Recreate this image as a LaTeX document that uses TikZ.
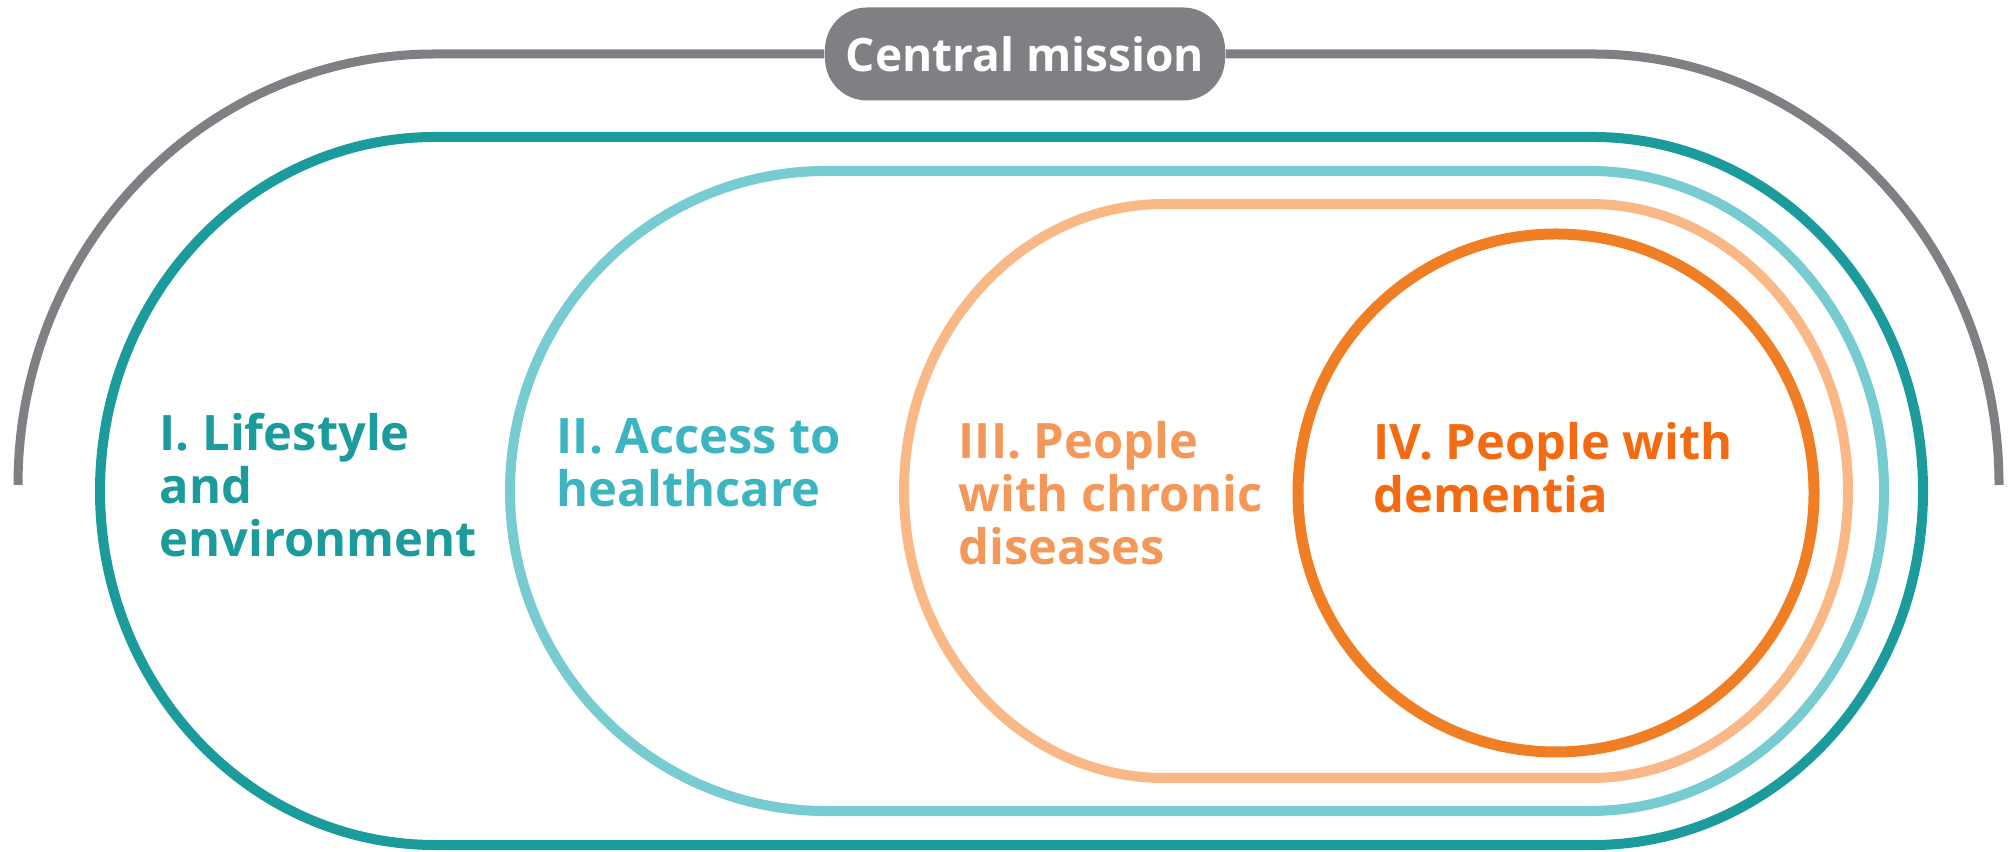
\documentclass[tikz,border=0pt]{standalone}
\usepackage{fontspec}
\setmainfont{Open Sans}
\usepackage{xcolor}
\usepackage{tikz}
\definecolor{MissionGray}{RGB}{128,128,132}
\definecolor{LifeTeal}{RGB}{28,155,156}
\definecolor{AccessTeal}{RGB}{118,204,208}
\definecolor{AccessText}{RGB}{60,181,192}
\definecolor{ChronicOrange}{RGB}{250,184,134}
\definecolor{ChronicText}{RGB}{244,152,90}
\definecolor{DementiaOrange}{RGB}{240,126,36}
\definecolor{DementiaText}{RGB}{242,106,18}
\tikzset{
    ring/.style={line width=1mm, line join=round},
    area/.style={anchor=base west, inner sep=0pt, align=left, font=\bfseries\fontsize{13.9}{15.2}\selectfont}
}

\begin{document}
\begin{tikzpicture}[
        x=0.1mm, y=0.1mm,
        % --- HỘP "CENTRAL MISSION" ---
        missionbox/.style={
            rectangle,
            rounded corners=4.2mm,
            fill=MissionGray,
            text=white,
            font=\bfseries\fontsize{13.1}{15}\selectfont,
            minimum width=40mm,
            minimum height=9.3mm,
            inner sep=0pt
        },
        arch/.style={MissionGray, line width=0.9mm}
    ]
    \useasboundingbox (0,0) rectangle (2008,851);

    % --- VÒNG NGOÀI: Central mission ---
    \node[missionbox] (mission) at (1025,797) {Central mission};
    \draw[arch] (mission.west) -- (435,797)
        arc[start angle=90, end angle=180, x radius=417, y radius=431];
    \draw[arch] (mission.east) -- (1593,797)
        arc[start angle=90, end angle=0, x radius=406, y radius=431];

    % --- I: Lifestyle ---
    \draw[ring, LifeTeal] (435,714) -- (1593,714)
        arc[start angle=90, end angle=-90, x radius=330, y radius=354] -- (435,6)
        arc[start angle=270, end angle=90, x radius=335, y radius=354] -- cycle;
    % --- II: Access ---
    \draw[ring, AccessTeal] (826,680) -- (1590,680)
        arc[start angle=90, end angle=-90, x radius=294, y radius=320] -- (826,40)
        arc[start angle=270, end angle=90, x radius=316, y radius=320] -- cycle;
    % --- III: Chronic ---
    \draw[ring, ChronicOrange] (1164,647) -- (1590,647)
        arc[start angle=90, end angle=-90, x radius=258, y radius=287] -- (1164,73)
        arc[start angle=270, end angle=90, x radius=260, y radius=287] -- cycle;
    % --- IV: Dementia ---
    \draw[ring, DementiaOrange, line width=1.1mm] (1556,358) ellipse[x radius=258, y radius=259];

    % --- NHÃN (base = dòng cuối) ---
    \node[area, text=LifeTeal] (lifestyle) at (159,294) {I. Lifestyle\\and\\environment};
    \node[area, text=AccessText] (access) at (556,344) {II. Access to\\healthcare};
    \node[area, text=ChronicText] (chronic) at (958,286) {III. People\\with chronic\\diseases};
    \node[area, text=DementiaText] (dementia) at (1373,338) {IV. People with\\dementia};

\end{tikzpicture}
\end{document}
